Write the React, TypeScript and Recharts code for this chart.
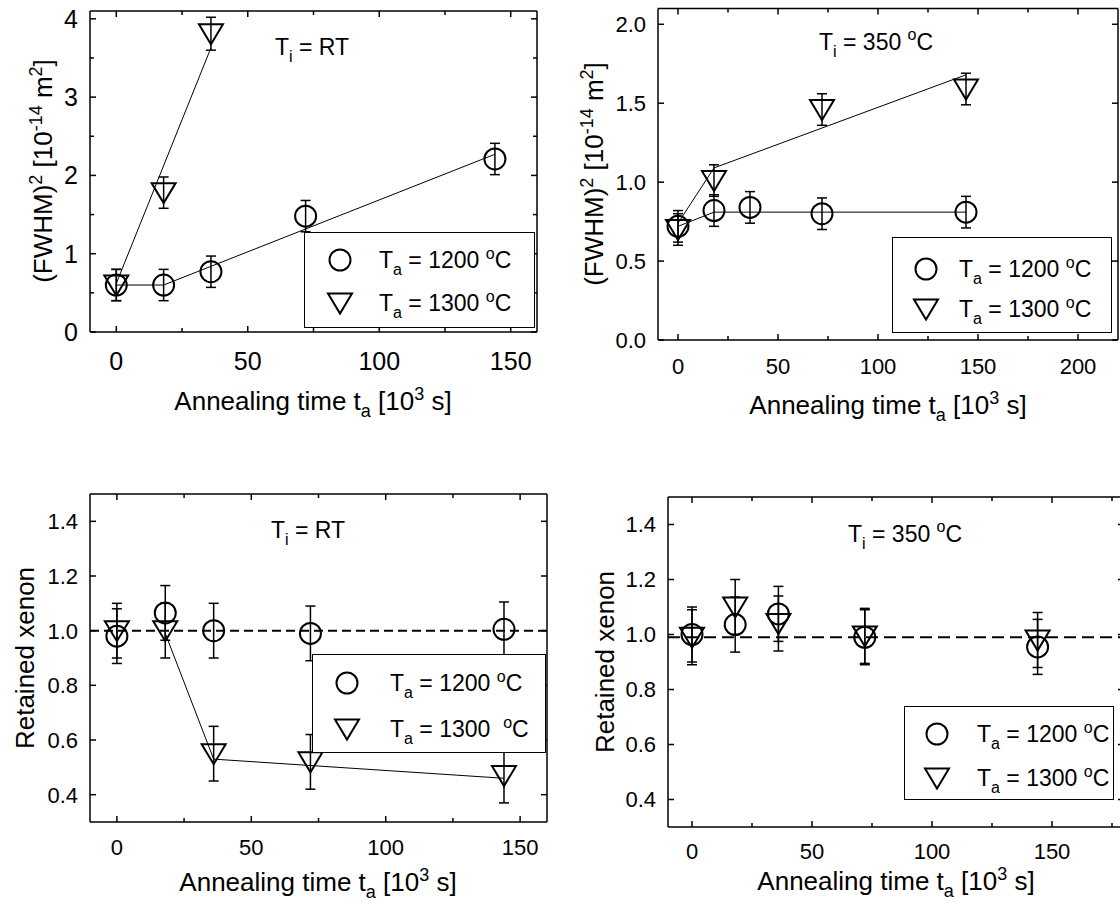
import React from 'react';
import { ComposedChart, XAxis, YAxis, Scatter, Line, ErrorBar, ReferenceLine, Legend } from 'recharts';

const FONT = '"Liberation Sans", Arial, Helvetica, sans-serif';

// annealing times [10^3 s]
const times = [0, 18, 36, 72, 144];

// (FWHM)^2 [10^-14 m^2], implantation at RT
const fwhmRt1200 = [0.6, 0.6, 0.77, 1.48, 2.21];
const fwhmRt1200Err = [0.2, 0.2, 0.2, 0.2, 0.2];
const fwhmRt1300Times = [0, 18, 36];
const fwhmRt1300 = [0.6, 1.78, 3.81];
const fwhmRt1300Err = [0.2, 0.2, 0.21];
const fwhmRtFit1200Times = [0, 18, 144];
const fwhmRtFit1200 = [0.6, 0.6, 2.27];
const fwhmRtFit1300Times = [0, 36];
const fwhmRtFit1300 = [0.62, 3.63];

// (FWHM)^2, implantation at 350 °C
const fwhm350_1200 = [0.72, 0.82, 0.84, 0.8, 0.81];
const fwhm350_1200Err = [0.1, 0.1, 0.1, 0.1, 0.1];
const fwhm350_1300Times = [0, 18, 72, 144];
const fwhm350_1300 = [0.7, 1.01, 1.46, 1.59];
const fwhm350_1300Err = [0.1, 0.1, 0.1, 0.1];
const fwhm350Fit1200Times = [0, 18, 144];
const fwhm350Fit1200 = [0.72, 0.81, 0.81];
const fwhm350Fit1300Times = [0, 18, 144];
const fwhm350Fit1300 = [0.74, 1.09, 1.68];

// retained xenon fraction, implantation at RT
const xeRt1200 = [0.98, 1.065, 1.0, 0.99, 1.005];
const xeRt1300 = [1.0, 1.0, 0.55, 0.52, 0.47];
const xeRtErr = [0.1, 0.1, 0.1, 0.1, 0.1];
const xeRtFit1300Times = [18, 36, 144];
const xeRtFit1300 = [0.99, 0.53, 0.46];

// retained xenon fraction, implantation at 350 °C
const xe350_1200 = [1.0, 1.036, 1.075, 0.99, 0.955];
const xe350_1300 = [0.99, 1.1, 1.04, 0.995, 0.98];
const xe350Err = [0.1, 0.1, 0.1, 0.1, 0.1];

// axis ticks
const xTicks160 = [0, 25, 50, 75, 100, 125, 150];
const xTicks180 = [0, 25, 50, 75, 100, 125, 150, 175];
const xTicks220 = [0, 25, 50, 75, 100, 125, 150, 175, 200];
const xMajor = [0, 50, 100, 150, 200];
const fwhmRtTicks = [0, 0.5, 1, 1.5, 2, 2.5, 3, 3.5, 4];
const fwhmRtMajor = [0, 1, 2, 3, 4];
const fwhm350Ticks = [0, 0.5, 1, 1.5, 2];
const xeTicks = [0.4, 0.6, 0.8, 1.0, 1.2, 1.4];

const legendTemps = ['1200', '1300'];
const legendTempsWide = ['1200', '1300 '];

type Pt = { x: number; y: number; e?: number };
const pts = (xs: number[], ys: number[], es?: number[]): Pt[] =>
  xs.map((x, i) => ({ x, y: ys[i], e: es ? es[i] : undefined }));

type Side = 'bottom' | 'top' | 'left' | 'right';

// inward tick marks, labels only on the bottom/left major ticks
const makeTick = (
  side: Side, major: number[], fmt?: (v: number) => string, labelDy = 36, fontSize = 22,
) => (p: any) => {
  const { x, y, payload } = p;
  const v = Number(payload.value);
  const isMajor = major.some((m) => Math.abs(m - v) < 1e-6);
  const len = isMajor ? 6 : 4;
  const st = { stroke: '#000', strokeWidth: 1.5 };
  if (side === 'bottom') {
    return (
      <g>
        <line x1={x} y1={y} x2={x} y2={y - len} {...st} />
        {fmt && isMajor && (
          <text x={x} y={y + labelDy} textAnchor="middle" fontSize={fontSize} fill="#000">
            {fmt(v)}
          </text>
        )}
      </g>
    );
  }
  if (side === 'top') return <line x1={x} y1={y} x2={x} y2={y + len} {...st} />;
  if (side === 'left') {
    return (
      <g>
        <line x1={x} y1={y} x2={x + len} y2={y} {...st} />
        {fmt && isMajor && (
          <text x={x - 12} y={y + fontSize * 0.36} textAnchor="end" fontSize={fontSize} fill="#000">
            {fmt(v)}
          </text>
        )}
      </g>
    );
  }
  return <line x1={x} y1={y} x2={x - len} y2={y} {...st} />;
};

const CircleMark = (p: any) => (
  <circle cx={p.cx} cy={p.cy} r={10.5} fill="none" stroke="#000" strokeWidth={2} />
);
const TriMark = (p: any) => (
  <polygon
    points={`${p.cx - 12},${p.cy - 9.5} ${p.cx + 12},${p.cy - 9.5} ${p.cx},${p.cy + 10.5}`}
    fill="none"
    stroke="#000"
    strokeWidth={2}
    strokeLinejoin="miter"
  />
);

interface LegendSpec {
  x: number; y: number; w: number; h: number;
  markX: number; rowY: [number, number]; textX: number;
  temps: string[];
}

function LegendBox({ spec }: { spec: LegendSpec }) {
  return (
    <div
      style={{
        position: 'relative', width: spec.w, height: spec.h, boxSizing: 'border-box',
        border: '1.5px solid #000', background: '#fff', fontFamily: FONT, color: '#000',
      }}
    >
      {spec.temps.map((t, i) => (
        <React.Fragment key={i}>
          <svg
            width={30}
            height={30}
            style={{ position: 'absolute', left: spec.markX - 15, top: spec.rowY[i] - 15 }}
          >
            {i === 0 ? <CircleMark cx={15} cy={15} /> : <TriMark cx={15} cy={15} />}
          </svg>
          <div
            style={{
              position: 'absolute', left: spec.textX, top: spec.rowY[i] - 15,
              fontSize: 23, lineHeight: '30px', whiteSpace: 'pre',
            }}
          >
            T<span style={{ fontSize: 16, position: 'relative', top: 7 }}>a</span>
            {` = ${t} `}
            <span style={{ fontSize: 16, position: 'relative', top: -9 }}>o</span>C
          </div>
        </React.Fragment>
      ))}
    </div>
  );
}

const XTitle = () => (
  <>
    Annealing time t<tspan dy={7} fontSize={18}>a</tspan>
    <tspan dy={-7}> [10</tspan>
    <tspan dy={-10} fontSize={18}>3</tspan>
    <tspan dy={10}> s]</tspan>
  </>
);

const FwhmTitle = () => (
  <>
    (FWHM)<tspan dy={-10} fontSize={18}>2</tspan>
    <tspan dy={10}> [10</tspan>
    <tspan dy={-10} fontSize={18}>-14</tspan>
    <tspan dy={10}> m</tspan>
    <tspan dy={-10} fontSize={18}>2</tspan>
    <tspan dy={10}>]</tspan>
  </>
);

const NoteRT = () => (
  <>
    T<tspan dy={7} fontSize={16}>i</tspan>
    <tspan dy={-7}> = RT</tspan>
  </>
);

const Note350 = () => (
  <>
    T<tspan dy={7} fontSize={16}>i</tspan>
    <tspan dy={-7}> = 350 </tspan>
    <tspan dy={-10} fontSize={16}>o</tspan>
    <tspan dy={10}>C</tspan>
  </>
);

interface PanelProps {
  left: number; top: number; width: number; height: number;
  // plot box edges in chart coordinates
  box: { top: number; right: number; bottom: number; left: number };
  tickFont: number;
  xDomain: [number, number]; xTicks: number[]; xLabelDy: number;
  yDomain: [number, number]; yTicks: number[]; yMajor: number[]; yFmt: (v: number) => string;
  circles: Pt[]; triangles: Pt[]; fits: Pt[][];
  refY?: number; dash?: string;
  yTitle: React.ReactNode; yTitleX: number; yTitleY: number;
  xTitleX: number; xTitleY: number;
  note: React.ReactNode; noteX: number; noteY: number;
  legend: LegendSpec;
}

const AX = 1; // axes need a non-zero size to be drawn

function Panel(p: PanelProps) {
  const margin = {
    top: p.box.top - AX,
    left: p.box.left - AX,
    right: p.width - p.box.right - AX,
    bottom: p.height - p.box.bottom - AX,
  };
  const axisLine = { stroke: '#000', strokeWidth: 1.5 };
  return (
    <div style={{ position: 'absolute', left: p.left, top: p.top }}>
      <ComposedChart width={p.width} height={p.height} margin={margin} style={{ fontFamily: FONT }}>
        <XAxis
          dataKey="x" type="number" domain={p.xDomain} ticks={p.xTicks} allowDataOverflow
          height={AX} tickSize={0} tickMargin={0} interval={0}
          axisLine={axisLine} tickLine={false}
          tick={makeTick('bottom', xMajor, (v) => String(v), p.xLabelDy, p.tickFont)}
        />
        <XAxis
          xAxisId="top" orientation="top" dataKey="x" type="number" domain={p.xDomain} ticks={p.xTicks}
          allowDataOverflow height={AX} tickSize={0} tickMargin={0} interval={0}
          axisLine={axisLine} tickLine={false}
          tick={makeTick('top', xMajor)}
        />
        <YAxis
          type="number" domain={p.yDomain} ticks={p.yTicks} allowDataOverflow
          width={AX} tickSize={0} tickMargin={0} interval={0}
          axisLine={axisLine} tickLine={false}
          tick={makeTick('left', p.yMajor, p.yFmt, 0, p.tickFont)}
        />
        <YAxis
          yAxisId="right" orientation="right" type="number" domain={p.yDomain} ticks={p.yTicks}
          allowDataOverflow width={AX} tickSize={0} tickMargin={0} interval={0}
          axisLine={axisLine} tickLine={false}
          tick={makeTick('right', p.yMajor)}
        />
        {p.refY !== undefined && (
          <ReferenceLine y={p.refY} stroke="#000" strokeWidth={2} strokeDasharray={p.dash} />
        )}
        {p.fits.map((f, i) => (
          <Line
            key={i} data={f} dataKey="y" type="linear" stroke="#000" strokeWidth={1}
            dot={false} activeDot={false} legendType="none" isAnimationActive={false}
          />
        ))}
        <Scatter name={p.legend.temps[0]} data={p.circles} dataKey="y" legendType="circle"
          shape={CircleMark} isAnimationActive={false}>
          <ErrorBar dataKey="e" direction="y" width={5} stroke="#000" strokeWidth={1.5} />
        </Scatter>
        <Scatter name={p.legend.temps[1]} data={p.triangles} dataKey="y" legendType="triangle"
          shape={TriMark} isAnimationActive={false}>
          <ErrorBar dataKey="e" direction="y" width={5} stroke="#000" strokeWidth={1.5} />
        </Scatter>
        <Legend
          layout="horizontal" verticalAlign="middle" align="center"
          wrapperStyle={{ left: p.legend.x, top: p.legend.y, width: p.legend.w, height: p.legend.h }}
          content={() => <LegendBox spec={p.legend} />}
        />
        <text
          transform={`rotate(-90 ${p.yTitleX} ${p.yTitleY})`} x={p.yTitleX} y={p.yTitleY}
          textAnchor="middle" fontSize={26} fill="#000"
        >
          {p.yTitle}
        </text>
        <text x={p.xTitleX} y={p.xTitleY} textAnchor="middle" fontSize={26} fill="#000">
          <XTitle />
        </text>
        <text x={p.noteX} y={p.noteY} fontSize={23} fill="#000">
          {p.note}
        </text>
      </ComposedChart>
    </div>
  );
}

const one = (v: number) => v.toFixed(1);

export default function App() {
  return (
    <div
      style={{
        position: 'absolute', left: 0, top: 0, width: 1120, height: 915,
        overflow: 'hidden', background: '#fff', fontFamily: FONT,
      }}
    >
      <Panel
        left={0} top={0} width={560} height={460}
        box={{ top: 11, right: 537, bottom: 332, left: 90 }} tickFont={25}
        xDomain={[-10, 160]} xTicks={xTicks160} xLabelDy={38}
        yDomain={[0, 4.1]} yTicks={fwhmRtTicks} yMajor={fwhmRtMajor} yFmt={(v) => String(v)}
        circles={pts(times, fwhmRt1200, fwhmRt1200Err)}
        triangles={pts(fwhmRt1300Times, fwhmRt1300, fwhmRt1300Err)}
        fits={[pts(fwhmRtFit1200Times, fwhmRtFit1200), pts(fwhmRtFit1300Times, fwhmRtFit1300)]}
        yTitle={<FwhmTitle />} yTitleX={52} yTitleY={171}
        xTitleX={313} xTitleY={410}
        note={<NoteRT />} noteX={275} noteY={55}
        legend={{ x: 304, y: 232, w: 231, h: 96, markX: 35, rowY: [27, 70], textX: 74, temps: legendTemps }}
      />
      <Panel
        left={560} top={0} width={560} height={460}
        box={{ top: 8.5, right: 558, bottom: 340, left: 98 }} tickFont={22}
        xDomain={[-10, 220]} xTicks={xTicks220} xLabelDy={34}
        yDomain={[0, 2.1]} yTicks={fwhm350Ticks} yMajor={fwhm350Ticks} yFmt={one}
        circles={pts(times, fwhm350_1200, fwhm350_1200Err)}
        triangles={pts(fwhm350_1300Times, fwhm350_1300, fwhm350_1300Err)}
        fits={[pts(fwhm350Fit1200Times, fwhm350Fit1200), pts(fwhm350Fit1300Times, fwhm350Fit1300)]}
        yTitle={<FwhmTitle />} yTitleX={43} yTitleY={174}
        xTitleX={328} xTitleY={414}
        note={<Note350 />} noteX={259} noteY={50}
        legend={{ x: 332, y: 237, w: 220, h: 96, markX: 33, rowY: [31, 71], textX: 66, temps: legendTemps }}
      />
      <Panel
        left={0} top={460} width={560} height={455}
        box={{ top: 34, right: 547, bottom: 362, left: 90 }} tickFont={22}
        xDomain={[-10, 160]} xTicks={xTicks160} xLabelDy={33}
        yDomain={[0.3, 1.5]} yTicks={xeTicks} yMajor={xeTicks} yFmt={one}
        circles={pts(times, xeRt1200, xeRtErr)}
        triangles={pts(times, xeRt1300, xeRtErr)}
        fits={[pts(xeRtFit1300Times, xeRtFit1300)]}
        refY={1} dash="9 5"
        yTitle="Retained xenon" yTitleX={34} yTitleY={198}
        xTitleX={318} xTitleY={431}
        note={<NoteRT />} noteX={271} noteY={78}
        legend={{ x: 312, y: 194, w: 234, h: 99, markX: 34, rowY: [28, 74], textX: 77, temps: legendTempsWide }}
      />
      <Panel
        left={560} top={460} width={580} height={455}
        box={{ top: 37, right: 564, bottom: 367, left: 108 }} tickFont={22}
        xDomain={[-10, 180]} xTicks={xTicks180} xLabelDy={32}
        yDomain={[0.3, 1.5]} yTicks={xeTicks} yMajor={xeTicks} yFmt={one}
        circles={pts(times, xe350_1200, xe350Err)}
        triangles={pts(times, xe350_1300, xe350Err)}
        fits={[]}
        refY={0.99} dash="12 6"
        yTitle="Retained xenon" yTitleX={54} yTitleY={202}
        xTitleX={336} xTitleY={430}
        note={<Note350 />} noteX={288} noteY={82}
        legend={{ x: 344, y: 246, w: 210, h: 94, markX: 32, rowY: [27, 71], textX: 72, temps: legendTemps }}
      />
    </div>
  );
}
